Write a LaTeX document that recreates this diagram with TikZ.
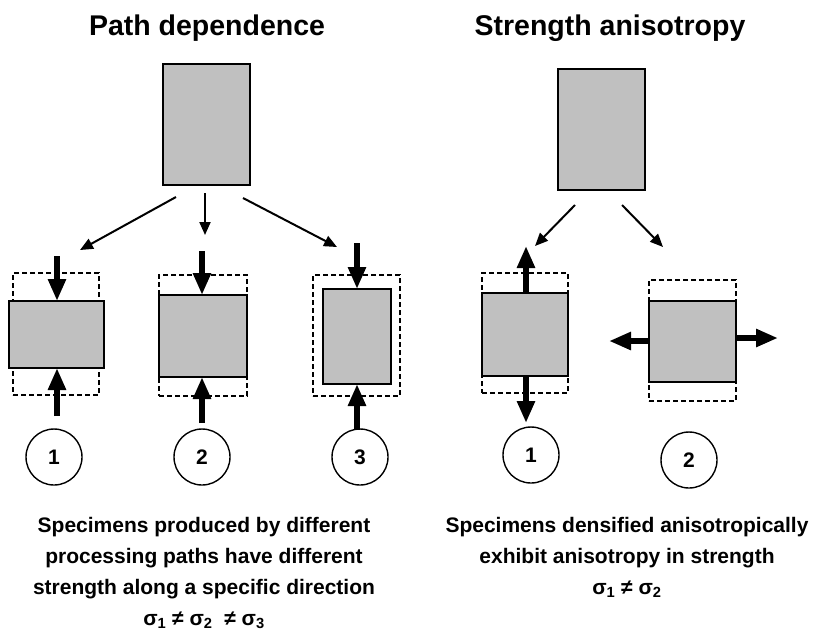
\documentclass[tikz,border=0pt]{standalone}
\usepackage{fontspec}
\setmainfont{Liberation Sans}
\usetikzlibrary{arrows.meta}
\definecolor{specgray}{HTML}{C0C0C0}

\begin{document}
\begin{tikzpicture}[x=1pt, y=-1pt,
    spec/.style={rectangle, draw=black, fill=specgray, line width=1.5pt, inner sep=0pt, outer sep=0pt},
    before/.style={rectangle, draw=black, dash pattern=on 5pt off 3pt, line width=1.2pt, inner sep=0pt},
    force/.style={line width=6pt, -{Triangle[length=22pt, width=17pt]}},
    route/.style={line width=2pt, -{Triangle[length=13pt, width=11pt]}},
    num/.style={circle, draw=black, line width=1.4pt, minimum size=56pt, inner sep=0pt, font=\fontsize{21}{24}\bfseries},
    title/.style={font=\fontsize{28.5}{32}\bfseries, anchor=base},
    caption/.style={font=\fontsize{21}{24}\bfseries, anchor=base, inner sep=0pt}]
    \useasboundingbox (0,0) rectangle (813,633);

    % titles
    \node[title] (titlel) at (207,35) {Path dependence};
    \node[title] (titler) at (610,35) {Strength anisotropy};

    % path dependence
    \node[spec, minimum width=87pt, minimum height=121pt] (topl) at (206.5,124.5) {};
    \node[before, minimum width=86pt, minimum height=122pt] (olda) at (56,334) {};
    \node[spec, minimum width=95pt, minimum height=67pt] (sa) at (56.5,334.5) {};
    \node[before, minimum width=88pt, minimum height=121pt] (oldb) at (203,335.5) {};
    \node[spec, minimum width=88pt, minimum height=82pt] (sb) at (203,336) {};
    \node[before, minimum width=87pt, minimum height=121pt] (oldc) at (356.5,335.5) {};
    \node[spec, minimum width=68pt, minimum height=95pt] (sc) at (357,336.5) {};

    \coordinate (fa1) at (176,197);
    \coordinate (ta1) at (80,250);
    \coordinate (fb1) at (205,193);
    \coordinate (tb1) at (205,235);
    \coordinate (fc1) at (243,198);
    \coordinate (tc1) at (337,247);
    \draw[route] (fa1) -- (ta1);
    \draw[route] (fb1) -- (tb1);
    \draw[route] (fc1) -- (tc1);

    \coordinate (pa) at (57,256);
    \coordinate (qa) at (57,416);
    \coordinate (pb) at (202,251);
    \coordinate (qb) at (202,423);
    \coordinate (pc) at (357,243);
    \coordinate (qc) at (357,430);
    \draw[force] (pa) -- (pa |- sa.north);
    \draw[force] (qa) -- (qa |- sa.south);
    \draw[force] (pb) -- (pb |- sb.north);
    \draw[force] (qb) -- (qb |- sb.south);
    \draw[force] (pc) -- (sc.north);
    \draw[force] (qc) -- (sc.south);

    \foreach \x/\n in {54/1, 202/2, 360/3}
        \node[num] (numl\n) at (\x,457) {\n};

    % strength anisotropy
    \node[spec, minimum width=87pt, minimum height=121pt] (topr) at (601.5,129.5) {};
    \node[before, minimum width=86pt, minimum height=120pt] (oldd) at (525,333) {};
    \node[spec, minimum width=86pt, minimum height=83pt] (sd) at (525,334.5) {};
    \node[before, minimum width=87pt, minimum height=121pt] (olde) at (692.5,340.5) {};
    \node[spec, minimum width=87pt, minimum height=81pt] (se) at (692.5,341.5) {};

    \coordinate (fd1) at (575,205);
    \coordinate (td1) at (535,246);
    \coordinate (fe1) at (622,205);
    \coordinate (te1) at (663,247);
    \draw[route] (fd1) -- (td1);
    \draw[route] (fe1) -- (te1);

    \coordinate (pd) at (526,246);
    \coordinate (qd) at (526,423);
    \coordinate (pe) at (609,341);
    \coordinate (qe) at (778,338);
    \draw[force] (pd |- sd.north) -- (pd);
    \draw[force] (qd |- sd.south) -- (qd);
    \draw[force] (se.west |- pe) -- (pe);
    \draw[force] (se.east |- qe) -- (qe);

    \node[num] (numr1) at (531,455) {1};
    \node[num] (numr2) at (689,460) {2};

    % captions
    \foreach \t[count=\i from 0] in {Specimens produced by different, processing paths have different, strength along a specific direction, {σ\textsubscript{1} ≠ σ\textsubscript{2}\ \ ≠ σ\textsubscript{3}}}
        \node[caption] (capl\i) at (204,532+31*\i) {\t};
    \foreach \t[count=\i from 0] in {Specimens densified anisotropically, exhibit anisotropy in strength, {σ\textsubscript{1} ≠ σ\textsubscript{2}}}
        \node[caption] (capr\i) at (627,532+31*\i) {\t};
\end{tikzpicture}
\end{document}
